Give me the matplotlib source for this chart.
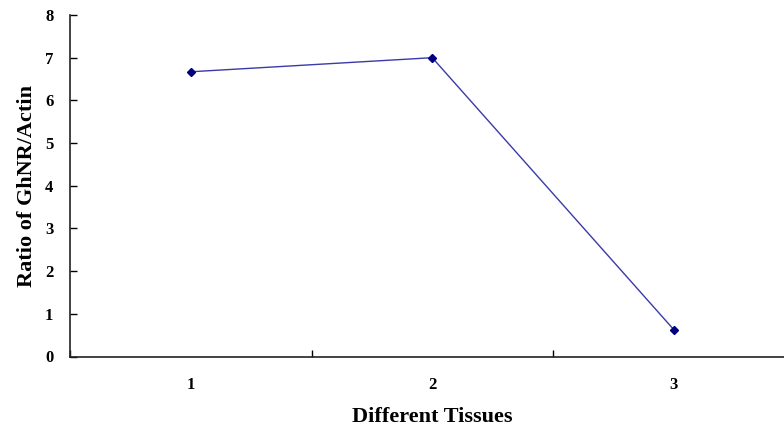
import matplotlib
matplotlib.use("Agg")
import matplotlib.pyplot as plt
from matplotlib.ticker import FixedLocator

categories = ["1", "2", "3"]
ratio_values = [6.67, 7.0, 0.63]
y_ticks = [0, 1, 2, 3, 4, 5, 6, 7, 8]

plt.rcParams['font.family'] = ['Liberation Serif', 'DejaVu Serif']

fig = plt.figure(figsize=(7.84, 4.29), dpi=100)
W, H = 784, 429
left, right, top, bottom = 70, 794.5, 15, 356.5
ax = fig.add_axes([left / W, 1 - bottom / H, (right - left) / W, (bottom - top) / H])

x = list(range(1, len(categories) + 1))
ax.plot(x, ratio_values, color="#3a3aa8", linewidth=1.0, marker="D",
        markersize=4.5, markerfacecolor="#000080", markeredgecolor="#000080",
        clip_on=False)

ax.set_xlim(0.5, 3.5)
ax.set_ylim(0, 8)
ax.set_yticks(y_ticks)
ax.set_yticklabels([str(v) for v in y_ticks], fontweight="bold", fontsize=12)
ax.set_xticks(x)
ax.set_xticklabels(categories, fontweight="bold", fontsize=12)
ax.xaxis.set_minor_locator(FixedLocator([0.5, 1.5, 2.5, 3.5]))

ax.tick_params(axis="y", direction="in", length=5, width=1, pad=12)
ax.tick_params(axis="x", which="major", length=0, pad=15)
ax.tick_params(axis="x", which="minor", direction="in", length=5, width=1)

for s in ["top", "right"]:
    ax.spines[s].set_visible(False)
for s in ["left", "bottom"]:
    ax.spines[s].set_linewidth(1.2)
    ax.spines[s].set_color("#222222")

ax.set_ylabel("Ratio of GhNR/Actin", fontweight="bold", fontsize=16, labelpad=6)
ax.set_xlabel("Different Tissues", fontweight="bold", fontsize=16, labelpad=10)

fig.savefig("out.png", dpi=100)
